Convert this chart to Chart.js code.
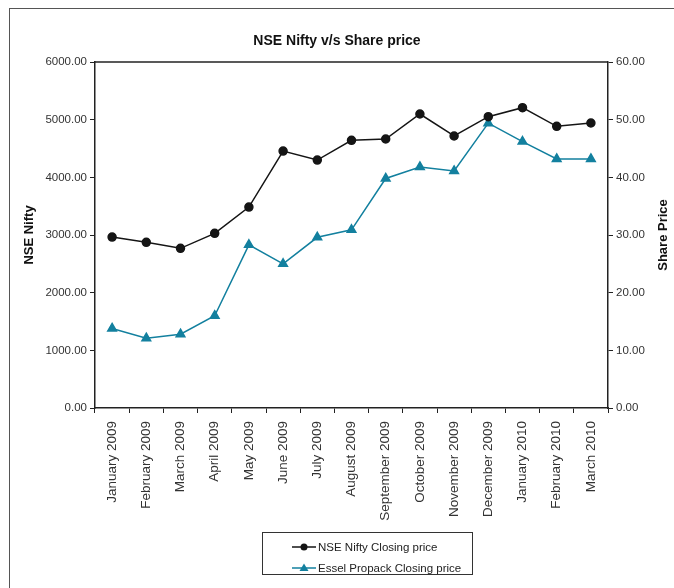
<!DOCTYPE html>
<html><head><meta charset="utf-8">
<script src="https://cdn.jsdelivr.net/npm/chart.js@4.4.0/dist/chart.umd.min.js"></script>
<style>
html,body{margin:0;padding:0;background:#fff;}
#wrap{position:relative;width:674px;height:588px;overflow:hidden;}
#frame{position:absolute;left:9px;top:8px;width:700px;height:600px;border-left:1.5px solid #555;border-top:1.5px solid #555;pointer-events:none;}
canvas{position:absolute;left:0;top:0;}
#legend{position:absolute;left:262px;top:532px;width:211px;height:43px;border:1px solid #333;box-sizing:border-box;font:11.5px "Liberation Sans",Arial,sans-serif;color:#222;}
.row{position:absolute;left:29px;height:16px;display:flex;align-items:center;white-space:nowrap;}
.row svg{margin-right:2px;}
</style></head>
<body>
<div id="wrap">
<canvas id="c" width="674" height="588"></canvas>
<div id="frame"></div>
<div id="legend"></div>
</div>
<script>
const months = ['January 2009','February 2009','March 2009','April 2009','May 2009','June 2009','July 2009','August 2009','September 2009','October 2009','November 2009','December 2009','January 2010','February 2010','March 2010'];
const niftyClose = [2965, 2873, 2769, 3029, 3485, 4456, 4300, 4642, 4665, 5098, 4717, 5052, 5208, 4885, 4942];
const esselClose = [13.8, 12.1, 12.8, 16.0, 28.3, 25.0, 29.6, 30.9, 39.8, 41.8, 41.1, 49.4, 46.2, 43.2, 43.2];
const seriesNames = ['NSE Nifty Closing price', 'Essel Propack Closing price'];
const leftAxis = {min: 0, max: 6000, step: 1000};
const rightAxis = {min: 0, max: 60, step: 10};

const FONT = '"Liberation Sans", Arial, sans-serif';
const teal = '#13809f';
const dark = '#151515';

const extras = {
  id: 'extras',
  afterDraw(chart) {
    const {ctx, chartArea} = chart;
    ctx.save();
    ctx.strokeStyle = '#222';
    ctx.lineWidth = 1.5;
    ctx.beginPath();
    ctx.moveTo(chartArea.left, chartArea.top);
    ctx.lineTo(chartArea.right, chartArea.top);
    ctx.stroke();
    ctx.translate(663, 235);
    ctx.rotate(-Math.PI / 2);
    ctx.font = 'bold 13px ' + FONT;
    ctx.fillStyle = '#111';
    ctx.textAlign = 'center';
    ctx.textBaseline = 'middle';
    ctx.fillText('Share Price', 0, 0);
    ctx.restore();
  }
};

const chart = new Chart(document.getElementById('c'), {
  type: 'line',
  data: {
    labels: months,
    datasets: [
      {label: seriesNames[0], data: niftyClose, yAxisID: 'y', borderColor: dark, backgroundColor: dark,
       borderWidth: 1.5, pointStyle: 'circle', pointRadius: 4, pointBackgroundColor: dark, pointBorderColor: dark, tension: 0},
      {label: seriesNames[1], data: esselClose, yAxisID: 'y2', borderColor: teal, backgroundColor: teal,
       borderWidth: 1.5, pointStyle: 'triangle', pointRadius: 5, pointBackgroundColor: teal, pointBorderColor: teal, tension: 0}
    ]
  },
  options: {
    responsive: false,
    animation: false,
    layout: {padding: 0},
    plugins: {
      legend: {display: false},
      tooltip: {enabled: false},
      title: {display: true, text: 'NSE Nifty v/s Share price', color: '#111',
        font: {family: FONT, size: 14, weight: 'bold'}, padding: {top: 32.6, bottom: 12.6}}
    },
    scales: {
      x: {
        offset: true,
        grid: {offset: true, drawOnChartArea: false, tickLength: 5, color: '#222'},
        border: {color: '#222', width: 1.5},
        ticks: {minRotation: 90, maxRotation: 90, autoSkip: false, padding: 8, color: '#333', font: {family: FONT, size: 13.5}},
        afterFit(s) { s.height = 180; }
      },
      y: {
        position: 'left', min: leftAxis.min, max: leftAxis.max,
        ticks: {stepSize: leftAxis.step, callback: v => Number(v).toFixed(2), padding: 3, color: '#333', font: {family: FONT, size: 11.5}},
        grid: {drawOnChartArea: false, tickLength: 5, color: '#222'},
        border: {color: '#222', width: 1.5},
        title: {display: true, text: 'NSE Nifty', color: '#111', font: {family: FONT, size: 13, weight: 'bold'}, padding: {top: 22, bottom: 0}},
        afterFit(s) { s.width = 95; }
      },
      y2: {
        position: 'right', min: rightAxis.min, max: rightAxis.max,
        ticks: {stepSize: rightAxis.step, callback: v => Number(v).toFixed(2), padding: 3, color: '#333', font: {family: FONT, size: 11.5}},
        grid: {drawOnChartArea: false, tickLength: 5, color: '#222'},
        border: {color: '#222', width: 1.5},
        afterFit(s) { s.width = 66; }
      }
    }
  },
  plugins: [extras]
});

// HTML legend built from the chart's datasets
const legend = document.getElementById('legend');
chart.data.datasets.forEach((ds, i) => {
  const row = document.createElement('div');
  row.className = 'row';
  row.style.top = (6 + i * 21) + 'px';
  const c = ds.borderColor;
  const marker = ds.pointStyle === 'circle'
    ? `<circle cx="12" cy="8" r="3.5" fill="${c}"/>`
    : `<polygon points="12,3.5 16.5,11 7.5,11" fill="${c}"/>`;
  row.innerHTML = `<svg width="24" height="16"><line x1="0" y1="8" x2="24" y2="8" stroke="${c}" stroke-width="1.5"/>${marker}</svg><span>${ds.label}</span>`;
  legend.appendChild(row);
});
</script>
</body></html>
